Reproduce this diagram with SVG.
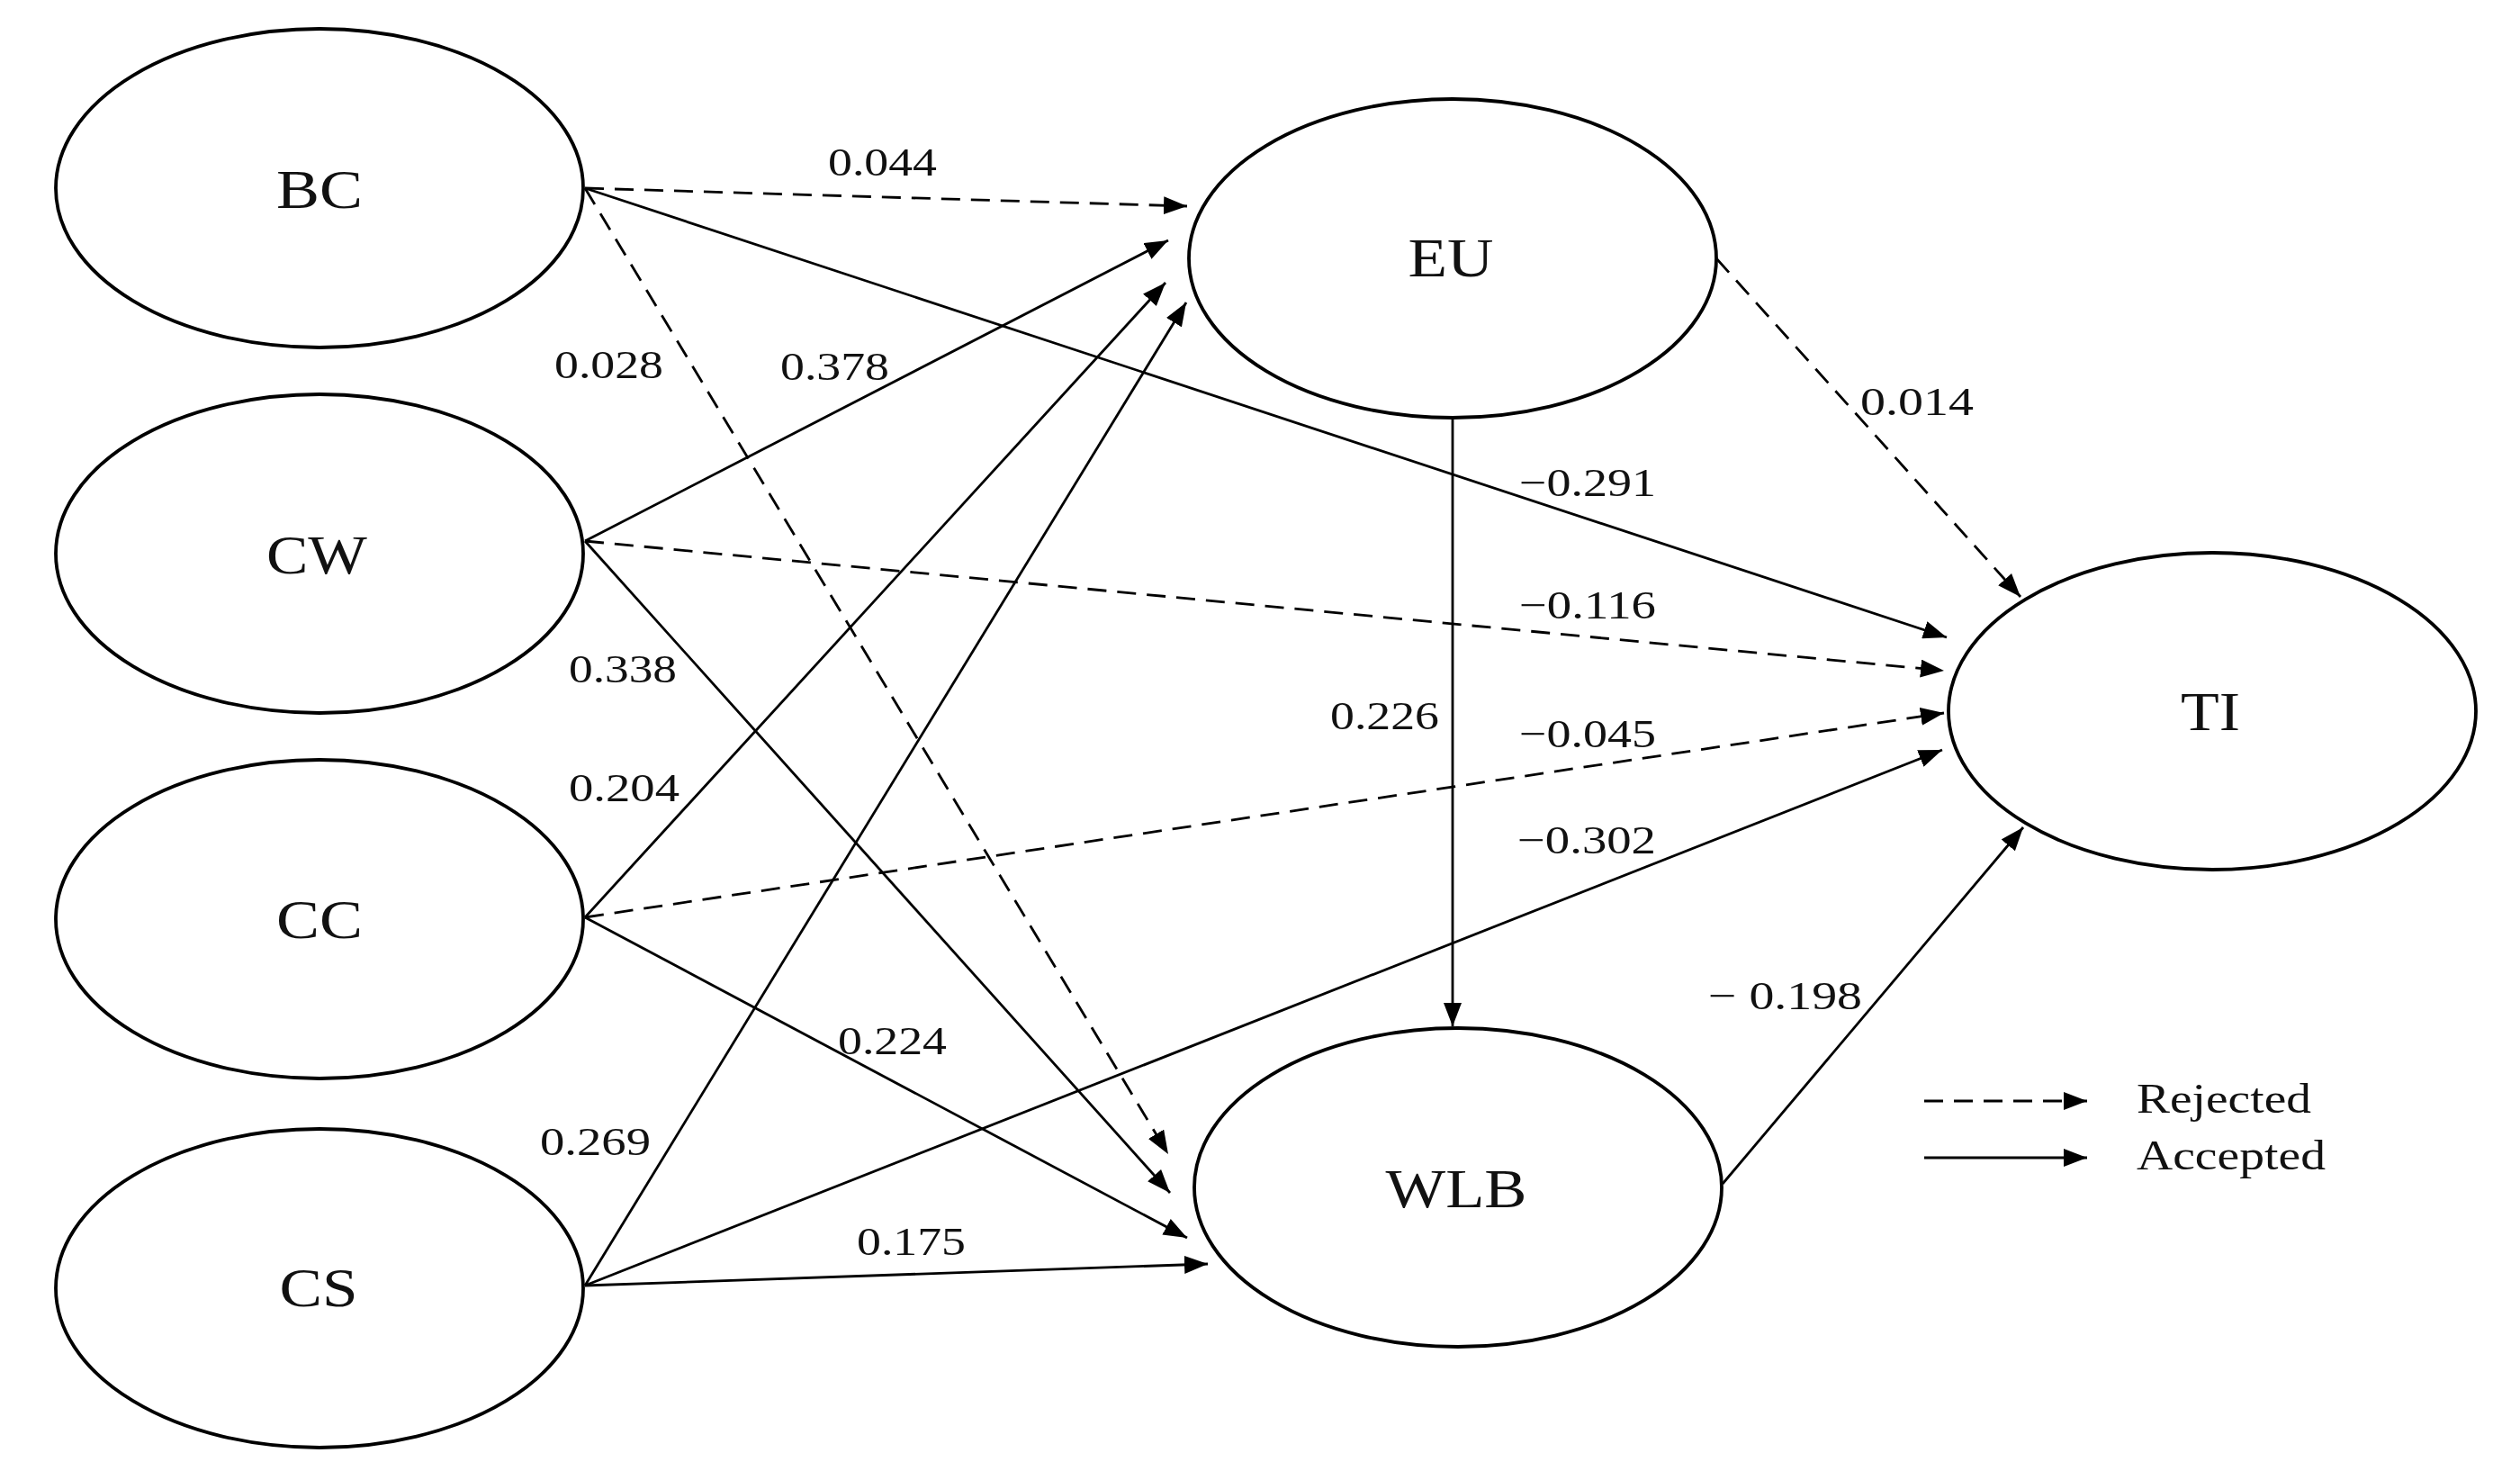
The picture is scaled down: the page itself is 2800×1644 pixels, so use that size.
<svg xmlns="http://www.w3.org/2000/svg" width="2800" height="1644" viewBox="0 0 2800 1644">
<style>
.node{fill:#fff;stroke:#000;stroke-width:3.8}
.nt{font-family:"Liberation Serif","Times New Roman",serif;font-size:62px;fill:#111;text-anchor:middle}
.lb{font-family:"Liberation Serif","Times New Roman",serif;font-size:44px;fill:#111}
.lg{font-family:"Liberation Serif","Times New Roman",serif;font-size:46px;fill:#111}
.c{fill:none;stroke:#000;stroke-width:2.8;marker-end:url(#ah)}
.d{stroke-dasharray:21 12}
</style>
<defs>
<marker id="ah" markerUnits="userSpaceOnUse" markerWidth="26" markerHeight="20" refX="26" refY="10" orient="auto">
<path d="M0,0 L26,10 L0,20 z" fill="#000"/>
</marker>
</defs>
<rect width="2800" height="1644" fill="#fff"/>
<g id="connectors">
<line class="c d" x1="650" y1="209" x2="1319" y2="229"/>
<line class="c" x1="650" y1="209" x2="2163" y2="708"/>
<line class="c d" x1="650" y1="209" x2="1298" y2="1282"/>
<line class="c" x1="650" y1="601" x2="1298" y2="267"/>
<line class="c d" x1="650" y1="601" x2="2160" y2="745"/>
<line class="c" x1="650" y1="601" x2="1300" y2="1325"/>
<line class="c" x1="650" y1="1019" x2="1295" y2="314"/>
<line class="c d" x1="650" y1="1019" x2="2160" y2="792"/>
<line class="c" x1="650" y1="1019" x2="1319" y2="1375"/>
<line class="c" x1="650" y1="1428" x2="1318" y2="336"/>
<line class="c" x1="650" y1="1428" x2="2158" y2="833"/>
<line class="c" x1="650" y1="1428" x2="1342" y2="1404"/>
<line class="c d" x1="1907" y1="287" x2="2245" y2="663"/>
<line class="c" x1="1614" y1="464" x2="1614" y2="1140"/>
<line class="c" x1="1914" y1="1315" x2="2248" y2="919"/>
</g>
<g id="labels">
<text class="lb" x="920" y="195" textLength="121" lengthAdjust="spacingAndGlyphs">0.044</text>
<text class="lb" x="616" y="420" textLength="121" lengthAdjust="spacingAndGlyphs">0.028</text>
<text class="lb" x="867" y="422" textLength="121" lengthAdjust="spacingAndGlyphs">0.378</text>
<text class="lb" x="632" y="758" textLength="120" lengthAdjust="spacingAndGlyphs">0.338</text>
<text class="lb" x="632" y="890" textLength="123" lengthAdjust="spacingAndGlyphs">0.204</text>
<text class="lb" x="600" y="1283" textLength="123" lengthAdjust="spacingAndGlyphs">0.269</text>
<text class="lb" x="931" y="1171" textLength="121" lengthAdjust="spacingAndGlyphs">0.224</text>
<text class="lb" x="952" y="1394" textLength="121" lengthAdjust="spacingAndGlyphs">0.175</text>
<text class="lb" x="1478" y="810" textLength="121" lengthAdjust="spacingAndGlyphs">0.226</text>
<text class="lb" x="2067" y="461" textLength="126" lengthAdjust="spacingAndGlyphs">0.014</text>
<text class="lb" x="1688" y="551" textLength="152" lengthAdjust="spacingAndGlyphs">−0.291</text>
<text class="lb" x="1688" y="687" textLength="152" lengthAdjust="spacingAndGlyphs">−0.116</text>
<text class="lb" x="1688" y="830" textLength="152" lengthAdjust="spacingAndGlyphs">−0.045</text>
<text class="lb" x="1686" y="948" textLength="154" lengthAdjust="spacingAndGlyphs">−0.302</text>
<text class="lb" x="1898" y="1121" textLength="171" lengthAdjust="spacingAndGlyphs">− 0.198</text>
</g>
<g id="BC"><ellipse class="node" cx="355" cy="209" rx="293" ry="177"/><text class="nt" x="355" y="231" textLength="96" lengthAdjust="spacingAndGlyphs">BC</text></g>
<g id="CW"><ellipse class="node" cx="355" cy="615" rx="293" ry="177"/><text class="nt" x="352" y="637" textLength="112" lengthAdjust="spacingAndGlyphs">CW</text></g>
<g id="CC"><ellipse class="node" cx="355" cy="1021" rx="293" ry="177"/><text class="nt" x="355" y="1042" textLength="96" lengthAdjust="spacingAndGlyphs">CC</text></g>
<g id="CS"><ellipse class="node" cx="355" cy="1431" rx="293" ry="177"/><text class="nt" x="354" y="1451" textLength="87" lengthAdjust="spacingAndGlyphs">CS</text></g>
<g id="EU"><ellipse class="node" cx="1614" cy="287" rx="293" ry="177"/><text class="nt" x="1612" y="307" textLength="95" lengthAdjust="spacingAndGlyphs">EU</text></g>
<g id="TI"><ellipse class="node" cx="2458" cy="790" rx="293" ry="176"/><text class="nt" x="2456" y="811" textLength="66" lengthAdjust="spacingAndGlyphs">TI</text></g>
<g id="WLB"><ellipse class="node" cx="1620" cy="1319" rx="293" ry="177"/><text class="nt" x="1618" y="1341" textLength="157" lengthAdjust="spacingAndGlyphs">WLB</text></g>
<g id="legend">
<line class="c d" x1="2138" y1="1223" x2="2319" y2="1223"/>
<line class="c" x1="2138" y1="1286" x2="2319" y2="1286"/>
<text class="lg" x="2374" y="1236" textLength="194" lengthAdjust="spacingAndGlyphs">Rejected</text>
<text class="lg" x="2374" y="1299" textLength="210" lengthAdjust="spacingAndGlyphs">Accepted</text>
</g>
</svg>
